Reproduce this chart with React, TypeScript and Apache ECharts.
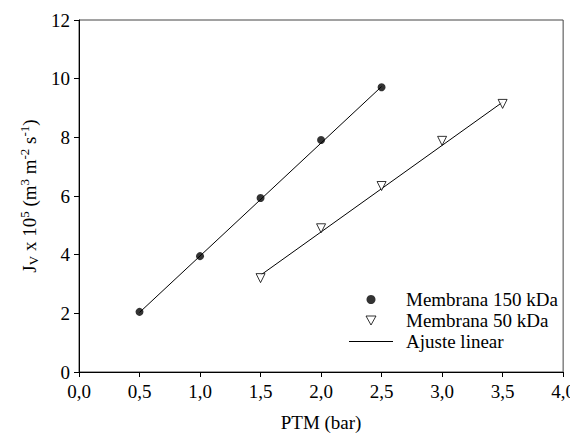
import React, { useEffect, useRef } from "react";
import * as echarts from "echarts";

const ptm150 = [0.5, 1.0, 1.5, 2.0, 2.5];
const jv150 = [2.05, 3.95, 5.93, 7.91, 9.71];
const ptm50 = [1.5, 2.0, 2.5, 3.0, 3.5];
const jv50 = [3.2, 4.9, 6.34, 7.88, 9.14];
const fit150X = [0.5, 2.5];
const fit150Y = [2.03, 9.73];
const fit50X = [1.5, 3.5];
const fit50Y = [3.3, 9.2];

const FONT = "Liberation Serif";
const FS = 19;

export default function App() {
  const ref = useRef<HTMLDivElement>(null);
  useEffect(() => {
    if (!ref.current) return;
    const chart = echarts.init(ref.current, undefined, { renderer: "svg" });
    const pair = (xs: number[], ys: number[]) => xs.map((x, i) => [x, ys[i]]);
    chart.setOption({
      animation: false,
      backgroundColor: "#fff",
      grid: { left: 79, right: 14, top: 20, bottom: 65, show: true, borderColor: "#444", borderWidth: 1 },
      legend: {
        orient: "vertical",
        left: 344,
        top: 285,
        itemGap: 2,
        itemWidth: 44,
        itemHeight: 9,
        textStyle: { fontFamily: FONT, fontSize: FS, color: "#000", padding: [0, 0, 0, 8] },
        data: [
          { name: "Membrana 150 kDa", icon: "circle", itemStyle: { color: "#000" } },
          {
            name: "Membrana 50 kDa",
            icon: "path://M0,0 L10,0 L5,9 Z",
            itemStyle: { color: "#fff", borderColor: "#000", borderWidth: 1 },
          },
          {
            name: "Ajuste linear",
            icon: "path://M0,0 L44,0 L44,1 L0,1 Z",
            itemStyle: { color: "#000", borderWidth: 0 },
          },
        ],
      },
      xAxis: {
        type: "value",
        min: 0,
        max: 4,
        interval: 0.5,
        name: "PTM (bar)",
        nameLocation: "middle",
        nameGap: 41,
        nameTextStyle: { fontFamily: FONT, fontSize: FS, color: "#000" },
        axisLine: { lineStyle: { color: "#000" } },
        axisTick: { inside: false, length: 5, lineStyle: { color: "#000" } },
        axisLabel: {
          fontFamily: FONT,
          fontSize: FS,
          color: "#000",
          margin: 10,
          formatter: (v: number) => v.toFixed(1).replace(".", ","),
        },
        splitLine: { show: false },
      },
      yAxis: {
        type: "value",
        min: 0,
        max: 12,
        interval: 2,
        name: "J{sub|V} x 10{sup|5} (m{sup|3} m{sup|-2} s{sup|-1})",
        nameLocation: "middle",
        nameRotate: 90,
        nameGap: 31,
        nameTextStyle: {
          fontFamily: FONT,
          fontSize: FS,
          color: "#000",
          rich: {
            sub: { fontFamily: FONT, fontSize: 13, color: "#000", padding: [9, 0, 0, 0] },
            sup: { fontFamily: FONT, fontSize: 13, color: "#000", padding: [0, 0, 10, 0] },
          },
        },
        axisLine: { show: true, lineStyle: { color: "#000" } },
        axisTick: { show: true, inside: false, length: 5, lineStyle: { color: "#000" } },
        axisLabel: { fontFamily: FONT, fontSize: FS, color: "#000", margin: 9 },
        splitLine: { show: false },
      },
      series: [
        {
          name: "Ajuste linear",
          type: "line",
          data: pair(fit150X, fit150Y),
          symbol: "none",
          lineStyle: { color: "#000", width: 1 },
          itemStyle: { color: "#000" },
          z: 1,
        },
        {
          name: "Ajuste linear",
          type: "line",
          data: pair(fit50X, fit50Y),
          symbol: "none",
          lineStyle: { color: "#000", width: 1 },
          itemStyle: { color: "#000" },
          z: 1,
        },
        {
          name: "Membrana 150 kDa",
          type: "scatter",
          data: pair(ptm150, jv150),
          symbol: "circle",
          symbolSize: 8,
          itemStyle: { color: "#000" },
          z: 3,
        },
        {
          name: "Membrana 50 kDa",
          type: "scatter",
          data: pair(ptm50, jv50),
          symbol: "triangle",
          symbolRotate: 180,
          symbolSize: 9,
          itemStyle: { color: "#fff", borderColor: "#000", borderWidth: 1 },
          z: 3,
        },
      ],
    });
    return () => chart.dispose();
  }, []);
  return <div ref={ref} style={{ width: 578, height: 437, marginLeft: -8, marginTop: -8 }} />;
}
